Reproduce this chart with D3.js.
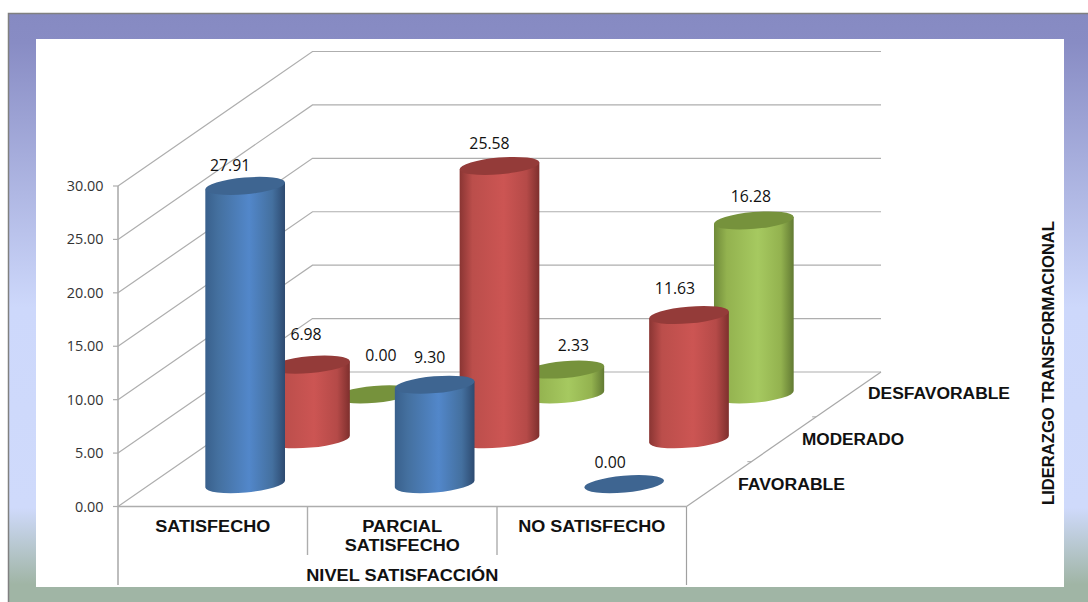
<!DOCTYPE html>
<html><head><meta charset="utf-8">
<script src="https://cdn.jsdelivr.net/npm/d3@7"></script>
<style>html,body{margin:0;padding:0;background:#fff;overflow:hidden}svg{display:block}</style>
</head><body><svg id="c" width="1088" height="602"></svg>
<script>
const categories = ["SATISFECHO", "PARCIAL SATISFECHO", "NO SATISFECHO"];
const seriesNames = ["FAVORABLE", "MODERADO", "DESFAVORABLE"];
const favorable = [27.91, 9.30, 0.00];
const moderado = [6.98, 25.58, 11.63];
const desfavorable = [0.00, 2.33, 16.28];
const valueTicks = [0, 5, 10, 15, 20, 25, 30];
const xAxisTitle = "NIVEL SATISFACCIÓN";
const depthAxisTitle = "LIDERAZGO TRANSFORMACIONAL";

const series = [favorable, moderado, desfavorable];
// label nudges relative to cylinder top, [dx, dy] per series/category
const nudges = [
  [[-15,-15],[-5,-22],[-14,-16]],
  [[-4,-25],[-10,-17],[-14,-21]],
  [[6,-33],[9,-19],[-3,-18]]
];
const palette = [
  {id:"b", top:"#3e6591", stops:["#39608c","#44709f","#5287ca","#44709f","#2d4a70"]},
  {id:"r", top:"#943b39", stops:["#8a3533","#bb4e4b","#cc5553","#b54a48","#7e2f2d"]},
  {id:"g", top:"#76923c", stops:["#6f8a39","#93b24f","#a6c960","#93b24f","#627a33"]}
];

const svg = d3.select("#c");
const defs = svg.append("defs");
const frame = defs.append("linearGradient").attr("id","frame").attr("x1",0).attr("x2",0).attr("y1",0).attr("y2",1);
[[0,"#868ac2"],[0.05,"#888cc4"],[0.5,"#cdd8fb"],[0.84,"#cfdafb"],[0.97,"#a0b5a5"],[1,"#a0b5a5"]]
  .forEach(s=>frame.append("stop").attr("offset",s[0]).attr("stop-color",s[1]));
palette.forEach(p=>{
  const g = defs.append("linearGradient").attr("id",p.id).attr("x1",0).attr("x2",1).attr("y1",0).attr("y2",0);
  [0,0.16,0.55,0.84,1].forEach((o,i)=>g.append("stop").attr("offset",o).attr("stop-color",p.stops[i]));
});

// background frame
svg.append("rect").attr("x",8).attr("y",13).attr("width",1080).attr("height",589).attr("fill","url(#frame)");
svg.append("path").attr("d","M8.5 602V13.5H1088").attr("fill","none").attr("stroke","#808080").attr("stroke-width",1.5);
svg.append("rect").attr("x",36).attr("y",39).attr("width",1028).attr("height",548).attr("fill","#fff");

// 3D oblique projection built from D3 scales
const xScale = d3.scaleBand().domain(categories).range([118,686.5]);
const yScale = d3.scaleLinear().domain([0,30]).range([506.5,186]);
const depthBand = d3.scaleBand().domain(seriesNames).range([0,1]);
const depthX = d3.scaleLinear().domain([0,1]).range([0,194.5]);
const depthY = d3.scaleLinear().domain([0,1]).range([0,-134.5]);

const grid = svg.append("g").attr("fill","none").attr("stroke","#aeaeae").attr("stroke-width",1.2);
const lineGen = d3.line();
valueTicks.forEach(t=>{
  const y = yScale(t), x0 = xScale.range()[0], x1 = x0+depthX(1), x2 = xScale.range()[1]+depthX(1);
  grid.append("path").attr("d",lineGen([[x0,y],[x1,y+depthY(1)],[x2,y+depthY(1)]]));
});

// axes
const ax = svg.append("g").attr("fill","none").attr("stroke","#adadad");
const x0 = xScale.range()[0], xEnd = xScale.range()[1], y0 = yScale(0);
ax.append("path").attr("stroke-width",1.6).attr("d",lineGen([[x0,yScale(30)],[x0,585]]));
ax.append("path").attr("stroke-width",1.6).attr("d",lineGen([[x0,y0],[xEnd,y0]]));
ax.append("path").attr("stroke-width",1.2).attr("stroke","#a8a8a8").attr("d",lineGen([[xEnd,y0],[xEnd+depthX(1),y0+depthY(1)]]));
ax.append("path").attr("stroke-width",1.2).attr("stroke","#a0a0a0").attr("d",lineGen([[xEnd,y0],[xEnd,585]]));
categories.slice(1).forEach(c=>ax.append("path").attr("stroke-width",1.4).attr("d",lineGen([[xScale(c),y0],[xScale(c),555]])));
valueTicks.forEach(t=>ax.append("path").attr("stroke-width",1.2).attr("d",lineGen([[x0-5,yScale(t)],[x0,yScale(t)]])));
[1/3,2/3].forEach(f=>ax.append("path").attr("stroke-width",1).attr("d",lineGen([[xEnd+depthX(f)-4,y0+depthY(f)],[xEnd+depthX(f),y0+depthY(f)]])));

// value tick labels
svg.append("g").selectAll("text").data(valueTicks).join("text")
  .attr("x",103.5).attr("y",d=>yScale(d)+5).attr("text-anchor","end")
  .attr("font-family","Open Sans").attr("font-size",14.4).attr("fill","#333")
  .text(d=>d3.format(".2f")(d));

// cylinders, back row first
const rx = 40, ry = 8.4, tiltDeg = -5;
const tx = rx*Math.cos(tiltDeg*Math.PI/180), ty = rx*Math.sin(tiltDeg*Math.PI/180);
const bars = svg.append("g");
const labels = svg.append("g");
[2,1,0].forEach(si=>{
  categories.forEach((c,ci)=>{
    const v = series[si][ci];
    const f = depthBand(seriesNames[si]) + depthBand.bandwidth()/2;
    const cx = xScale(c)+xScale.bandwidth()/2+depthX(f);
    const base = yScale(0)+depthY(f);
    const top = base-(yScale(0)-yScale(v));
    const p = palette[si];
    if(v>0){
      bars.append("path").attr("fill",`url(#${p.id})`)
        .attr("d",`M${cx-tx} ${top-ty}L${cx-tx} ${base-ty}A${rx} ${ry} ${tiltDeg} 0 0 ${cx+tx} ${base+ty}L${cx+tx} ${top+ty}Z`);
    }
    bars.append("ellipse").attr("cx",cx).attr("cy",top).attr("rx",rx).attr("ry",ry)
      .attr("transform",`rotate(${tiltDeg} ${cx} ${top})`).attr("fill",p.top);
    const n = nudges[si][ci];
    labels.append("text").attr("x",cx+n[0]).attr("y",top+n[1]).attr("text-anchor","middle")
      .attr("font-family","Open Sans").attr("font-size",15.8).attr("fill","#111")
      .text(d3.format(".2f")(v));
  });
});

// bold labels
function bold(txt,cx,y,len,size){
  return svg.append("text").attr("x",cx).attr("y",y).attr("text-anchor","middle")
    .attr("font-family","Liberation Sans").attr("font-weight","bold").attr("font-size",size||16)
    .attr("fill","#111").attr("textLength",len).attr("lengthAdjust","spacingAndGlyphs").text(txt);
}
const bandC = c=>xScale(c)+xScale.bandwidth()/2;
bold("SATISFECHO",bandC(categories[0]),532,115);
bold("PARCIAL",bandC(categories[1]),532,80);
bold("SATISFECHO",bandC(categories[1]),551,115);
bold(categories[2],bandC(categories[2]),532,147);
bold(xAxisTitle,bandC(categories[1]),581,192);
bold(seriesNames[0],791.5,490,107);
bold(seriesNames[1],853,445,102);
bold(seriesNames[2],939,399,142);
svg.append("text").attr("transform","translate(1054,363) rotate(-90)").attr("text-anchor","middle")
  .attr("font-family","Liberation Sans").attr("font-weight","bold").attr("font-size",16).attr("fill","#111")
  .attr("textLength",284).attr("lengthAdjust","spacingAndGlyphs").text(depthAxisTitle);
</script></body></html>
